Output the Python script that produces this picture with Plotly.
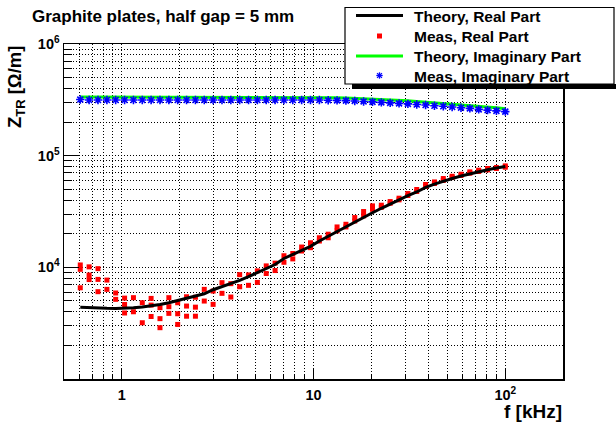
import plotly.graph_objects as go

# ---------------- data ----------------
freq_khz = [0.608, 0.676, 0.752, 0.837, 0.930, 1.035, 1.151, 1.280, 1.423, 1.583,
            1.761, 1.958, 2.178, 2.423, 2.694, 2.996, 3.333, 3.707, 4.121, 4.584,
            5.097, 5.669, 6.305, 7.013, 7.798, 8.673, 9.645, 10.73, 11.93, 13.27,
            14.76, 16.41, 18.25, 20.30, 22.58, 25.11, 27.93, 31.06, 34.54, 38.42,
            42.73, 47.52, 52.84, 58.77, 65.36, 72.68, 80.84, 89.90, 100.0]

theory_real = [4400, 4350, 4320, 4300, 4290, 4300, 4340, 4420, 4520, 4650,
               4820, 5030, 5260, 5520, 5800, 6300, 6700, 7150, 7650, 8250,
               8950, 9750, 10600, 12000, 13000, 14200, 15400, 17200, 19000, 21000,
               23000, 25400, 28000, 30800, 33800, 37000, 40300, 43800, 47300, 52000,
               55700, 59200, 62500, 65700, 68800, 71800, 74700, 77400, 80000]

meas_real_a = [10500, 10100, 9730, 7690, 5890, 5300, 5350, 4820, 5270, 4350,
               5350, 4820, 5450, 5400, 6350, 6130, 7290, 7140, 8600, 8550,
               9300, 10300, 10900, 12700, 13300, 15200, 16600, 18400, 19800, 23000,
               24300, 27900, 31600, 35500, 36000, 38800, 41600, 45800, 49800, 55200,
               58200, 62400, 65400, 68200, 71600, 74100, 76800, 78300, 81000]
meas_real_b = [9600, 8530, 7800, 6350, 5170, 4650, 4000, 3190, 4590, 3470,
               4440, 3840, 4500, 4400, 4990, 4660, 5850, 5420, 6700, 6900,
               7330, 8800, 9360, 11100, 11900, 14000, 15000, 17200, 18400, 21200,
               23000, 26000, 28900, 33100, 34500, 37500, 40200, 44000, 47800, 53000,
               56300, 60000, 63700, 66400, 69700, 72100, 74600, 76800, 78800]
meas_real_c = [6560, 7770, 6050, None, None, 3900, None, None, 3630, 2880,
               3870, 3080, 3650, 3650, None, None, None, None, None, None,
               None, None, None, None, None, None, None, None, None, None,
               None, None, None, None, None, None, None, None, None, None,
               None, None, None, None, None, None, None, None, None]

theory_imag = [335000, 335000, 335000, 335000, 335000, 335000, 335000, 335000, 335000, 335000,
               335000, 334000, 334000, 334000, 334000, 334000, 334000, 334000, 334000, 334000,
               334000, 332000, 332000, 332000, 332000, 332000, 332000, 330000, 330000, 330000,
               328000, 326000, 324000, 322000, 319000, 316000, 313000, 310000, 306000, 302000,
               298000, 294000, 290000, 286000, 282000, 278000, 273000, 268000, 263000]

meas_imag = [318000, 315000, 315000, 315000, 315000, 315000, 315000, 315000, 315000, 315000,
             315000, 315000, 315000, 315000, 315000, 315000, 315000, 315000, 315000, 315000,
             315000, 315000, 315000, 315000, 315000, 315000, 315000, 315000, 314000, 313000,
             311000, 309000, 306000, 303000, 300000, 297000, 294000, 291000, 287000, 284000,
             280000, 277000, 273000, 269000, 265000, 260000, 256000, 252000, 248000]

x_tick_vals = [1, 10, 100]
x_tick_text = ["1", "10", "10<sup>2</sup>"]
y_tick_vals = [1e4, 1e5, 1e6]
y_tick_text = ["10<sup>4</sup>", "10<sup>5</sup>", "10<sup>6</sup>"]

title_text = "Graphite plates, half gap = 5 mm"
legend_labels = ["Theory, Real Part", "Meas, Real Part",
                 "Theory, Imaginary Part", "Meas, Imaginary Part"]

# ---------------- layout geometry (pixels) ----------------
W, H = 616, 424
L, R, T, B = 64, 563, 44, 379
FONT = "Liberation Sans, Arial, Helvetica, sans-serif"


def px(x):
    return (x - L) / (R - L)


def py(y):
    return (B - y) / (B - T)


fig = go.Figure()

# measured real part (repeated measurements)
meas_x, meas_y = [], []
for series in (meas_real_a, meas_real_b, meas_real_c):
    for f, v in zip(freq_khz, series):
        if v is not None:
            meas_x.append(f)
            meas_y.append(v)

fig.add_trace(go.Scatter(x=freq_khz, y=theory_imag, mode="lines",
                         line=dict(color="#00ff00", width=3), name=legend_labels[2]))
fig.add_trace(go.Scatter(x=freq_khz, y=meas_imag, mode="markers",
                         marker=dict(symbol="asterisk-open", size=7, color="#0000ff",
                                     line=dict(color="#0000ff", width=1.6)),
                         name=legend_labels[3]))
fig.add_trace(go.Scatter(x=meas_x, y=meas_y, mode="markers",
                         marker=dict(symbol="square", size=5, color="#ff0000",
                                     line=dict(width=0)),
                         name=legend_labels[1]))
fig.add_trace(go.Scatter(x=freq_khz, y=theory_real, mode="lines",
                         line=dict(color="black", width=3), name=legend_labels[0]))

grid_common = dict(showgrid=True, gridcolor="black", gridwidth=1, griddash="1px,2px")

fig.update_xaxes(type="log", range=[-0.301, 2.301],
                 tickmode="array", tickvals=x_tick_vals, ticktext=x_tick_text,
                 ticks="inside", ticklen=10, tickwidth=1, tickcolor="black",
                 ticklabelstandoff=2,
                 showline=True, linecolor="black", linewidth=1.5, mirror=True,
                 tickfont=dict(family=FONT, size=14.5, color="black", weight="bold"),
                 minor=dict(dtick="D1", ticks="inside", ticklen=5, tickcolor="black",
                            **grid_common),
                 zeroline=False, **grid_common)
fig.update_yaxes(type="log", range=[3, 6],
                 tickmode="array", tickvals=y_tick_vals, ticktext=y_tick_text,
                 ticks="inside", ticklen=15, tickwidth=1, tickcolor="black",
                 showline=True, linecolor="black", linewidth=1.5, mirror=True,
                 tickfont=dict(family=FONT, size=14.5, color="black", weight="bold"),
                 minor=dict(dtick="D1", ticks="inside", ticklen=8, tickcolor="black",
                            **grid_common),
                 zeroline=False, **grid_common)

shapes = []
annotations = []

# title
annotations.append(dict(xref="paper", yref="paper", x=px(30), y=py(17),
                        xanchor="left", yanchor="middle", showarrow=False,
                        text="<b>" + title_text + "</b>",
                        font=dict(family=FONT, size=17, color="black")))
# axis titles
annotations.append(dict(xref="paper", yref="paper", x=px(16), y=py(87),
                        xanchor="center", yanchor="middle", showarrow=False,
                        textangle=-90,
                        text="<b>Z<sub>TR</sub> [Ω/m]</b>",
                        font=dict(family=FONT, size=18.5, color="black")))
annotations.append(dict(xref="paper", yref="paper", x=px(564), y=py(411),
                        xanchor="right", yanchor="middle", showarrow=False,
                        text="<b>f [kHz]</b>",
                        font=dict(family=FONT, size=19, color="black")))

# legend box with shadow
shapes.append(dict(type="rect", xref="paper", yref="paper",
                   x0=px(352), x1=px(620), y0=py(84), y1=py(89),
                   fillcolor="black", line=dict(width=0), layer="above"))
shapes.append(dict(type="rect", xref="paper", yref="paper",
                   x0=px(345), x1=px(614), y0=py(7.5), y1=py(84),
                   fillcolor="white", line=dict(color="black", width=1.2), layer="above"))

rows = [15.5, 36, 56, 75.5]
# samples
shapes.append(dict(type="line", xref="paper", yref="paper", x0=px(356), x1=px(403),
                   y0=py(rows[0]), y1=py(rows[0]), line=dict(color="black", width=3),
                   layer="above"))
shapes.append(dict(type="rect", xref="paper", yref="paper", x0=px(377), x1=px(382),
                   y0=py(rows[1] - 2.5), y1=py(rows[1] + 2.5), fillcolor="#ff0000",
                   line=dict(width=0), layer="above"))
shapes.append(dict(type="line", xref="paper", yref="paper", x0=px(356), x1=px(403),
                   y0=py(rows[2]), y1=py(rows[2]), line=dict(color="#00ff00", width=3),
                   layer="above"))
cx, cy, s = 379.5, rows[3], 3.2
for dx, dy in ((s, 0), (0, s), (s * 0.75, s * 0.75), (s * 0.75, -s * 0.75)):
    shapes.append(dict(type="line", xref="paper", yref="paper",
                       x0=px(cx - dx), x1=px(cx + dx), y0=py(cy - dy), y1=py(cy + dy),
                       line=dict(color="#0000ff", width=1.3), layer="above"))
for lab, yy in zip(legend_labels, rows):
    annotations.append(dict(xref="paper", yref="paper", x=px(412), y=py(yy + 0.5),
                            xanchor="left", yanchor="middle", showarrow=False,
                            text="<b>" + lab + "</b>",
                            font=dict(family=FONT, size=15.5, color="black")))

fig.update_layout(width=W, height=H, autosize=False,
                  margin=dict(l=L, r=W - R, t=T, b=H - B, pad=0),
                  paper_bgcolor="white", plot_bgcolor="white",
                  showlegend=False, shapes=shapes, annotations=annotations,
                  font=dict(family=FONT, color="black"))

fig.write_html("out.html",
               config={"displayModeBar": False, "staticPlot": True},
               post_script="document.body.style.margin='0';"
                           "document.body.style.padding='0';"
                           "document.body.style.overflow='hidden';")
